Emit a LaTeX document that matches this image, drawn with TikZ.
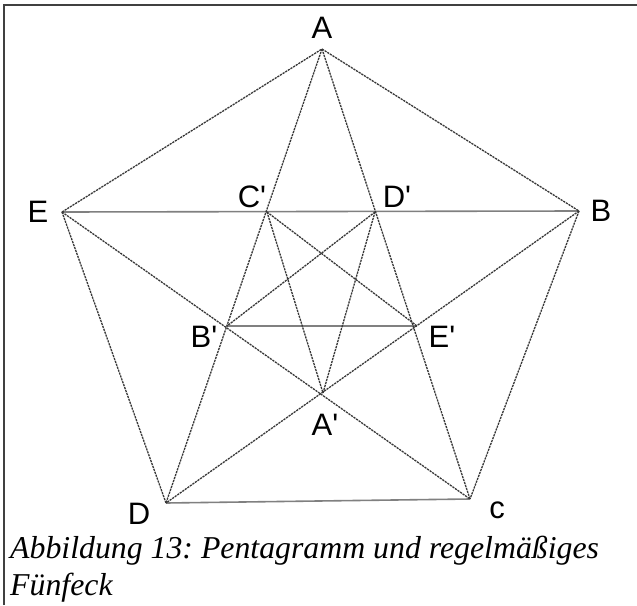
\documentclass[tikz,border=0pt]{standalone}
\usepackage{fontspec}
\setmainfont{Liberation Serif}
\newfontfamily\labfont{Liberation Sans}
\tikzset{
  ln/.style={draw=black!78, line width=1.3pt, dash pattern=on 2.2pt off 0.9pt},
  hl/.style={draw=black!50, line width=1.6pt},
  lab/.style={font=\labfont\fontsize{31}{31}\selectfont, inner sep=0pt, anchor=center},
  frame/.style={draw=black!75, line width=1.6pt},
  captxt/.style={anchor=base west, inner sep=0pt, font=\frenchspacing\itshape\fontsize{31.8}{37}\selectfont}
}
\begin{document}
\begin{tikzpicture}[x=1pt,y=-1pt]
\useasboundingbox (0,0) rectangle (637,605);
% outer pentagon vertices
\coordinate (A) at (322,49);
\coordinate (B) at (579,211);
\coordinate (C) at (470,499);
\coordinate (D) at (166,503);
\coordinate (E) at (62,212);
% inner pentagon vertices
\coordinate (Cp) at (267,212);
\coordinate (Dp) at (375,212);
\coordinate (Ep) at (417,326);
\coordinate (Ap) at (323,393);
\coordinate (Bp) at (227,326);
% frame
\coordinate (F1) at (4,605);
\coordinate (F2) at (4,5);
\coordinate (F3) at (637,5);
\draw[frame] (F1) -- (F2) -- (F3);
% horizontal lines
\draw[hl] (E) -- (B);
\draw[hl] (Bp) -- (Ep);
\draw[hl] (D) -- (C);
% pentagon
\draw[ln] (A) -- (B);
\draw[ln] (B) -- (C);
\draw[ln] (D) -- (E);
\draw[ln] (E) -- (A);
% pentagram
\draw[ln] (A) -- (C);
\draw[ln] (A) -- (D);
\draw[ln] (E) -- (C);
\draw[ln] (B) -- (D);
% inner pentagram
\draw[ln] (Cp) -- (Ap);
\draw[ln] (Cp) -- (Ep);
\draw[ln] (Dp) -- (Ap);
\draw[ln] (Dp) -- (Bp);
% labels
\node[lab] (lA) at (322,28) {A};
\node[lab] (lB) at (601,211) {B};
\node[lab] (lC) at (497,510) {c};
\node[lab] (lD) at (139,514) {D};
\node[lab] (lE) at (38,212) {E};
\node[lab] (lCp) at (252,197) {C\textquotesingle};
\node[lab] (lDp) at (397,197) {D\textquotesingle};
\node[lab] (lBp) at (204,337) {B\textquotesingle};
\node[lab] (lEp) at (442,337) {E\textquotesingle};
\node[lab] (lAp) at (325,425) {A\textquotesingle};
% caption
\node[captxt] (cap1) at (10,558) {Abbildung 13: Pentagramm und regelmäßiges};
\node[captxt] (cap2) at (10,595) {Fünfeck};
\end{tikzpicture}
\end{document}
